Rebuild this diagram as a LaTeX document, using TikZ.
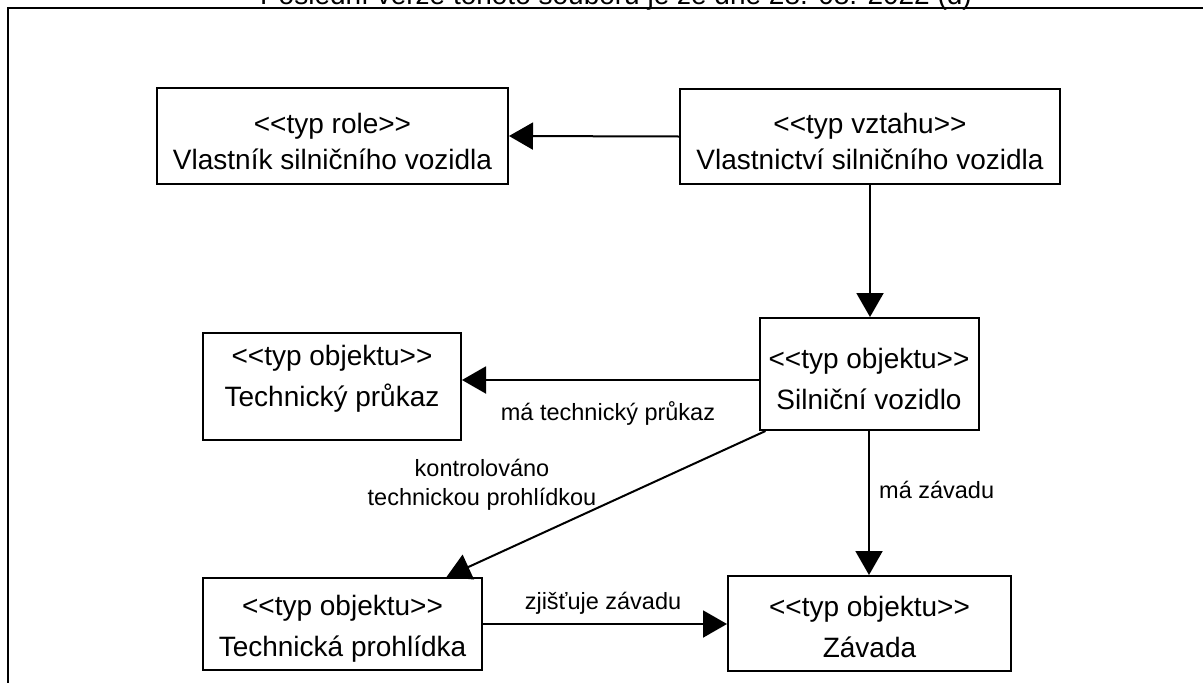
\documentclass[tikz,border=0pt]{standalone}
\usepackage{fontspec}
\setmainfont{Liberation Sans}[Ligatures=TeXOff]
\usetikzlibrary{arrows.meta}
\begin{document}
\begin{tikzpicture}[x=1pt,y=-1pt,
  box/.style={draw, line width=2pt, align=center, inner sep=0pt,
    font=\fontsize{28}{41}\selectfont},
  topbox/.style={box, font=\fontsize{28}{36}\selectfont},
  lbl/.style={font=\fontsize{23.5}{29}\selectfont, align=center, inner sep=0pt},
  arr/.style={line width=2pt, -{Triangle[length=24pt,width=27pt]}},
  frame/.style={line width=2.6pt}]
\useasboundingbox (0,0) rectangle (1203,683);
\begin{scope}
  \clip (0,0) rectangle (1203,683);
  \node[anchor=base, inner sep=0pt, font=\fontsize{28}{34}\selectfont] (title) at (616,4)
    {Poslední verze tohoto souboru je ze dne 28. 08. 2022 (d)};
\end{scope}
\draw[frame] (8,684) -- (8,8) -- (1204,8);

\node[topbox, minimum width=351pt, minimum height=96pt] (A) at (332.5,136)
  {\rule{0pt}{31pt}<<typ role>>\\Vlastník silničního vozidla};
\node[topbox, minimum width=380pt, minimum height=95pt] (B) at (870,136.5)
  {\rule{0pt}{31pt}<<typ vztahu>>\\Vlastnictví silničního vozidla};
\node[box, minimum width=258pt, minimum height=107pt] (C) at (332,386.5)
  {<<typ objektu>>\\Technický průkaz\rule[-21pt]{0pt}{21pt}};
\node[box, minimum width=219pt, minimum height=112pt] (D) at (869,374)
  {\rule{0pt}{31pt}<<typ objektu>>\\Silniční vozidlo};
\node[box, minimum width=279pt, minimum height=92pt] (T) at (342.5,624)
  {\rule{0pt}{30pt}<<typ objektu>>\\Technická prohlídka};
\node[box, minimum width=283pt, minimum height=95pt] (Z) at (869.5,623.5)
  {\rule{0pt}{27pt}<<typ objektu>>\\Závada};

\coordinate (dc) at ([yshift=-6pt]D.west);
\draw[arr] (B.west) -- (A.east);
\draw[arr] (B.south) -- (B.south |- D.north);
\draw[arr] (dc) -- (C.east |- dc);
\draw[arr] ([xshift=7pt]D.south west) -- ([xshift=104pt]T.north);
\draw[arr] (D.south) -- (D.south |- Z.north);
\draw[arr] (T.east) -- (Z.west |- T.east);

\node[lbl, anchor=base] (l1) at (608,420) {má technický průkaz};
\node[lbl, anchor=center] (l2) at (482,485) {kontrolováno\\technickou prohlídkou};
\node[lbl, anchor=base west] (l3) at (879,498) {má závadu};
\node[lbl, anchor=base] (l4) at (603,609) {zjišťuje závadu};
\end{tikzpicture}
\end{document}
